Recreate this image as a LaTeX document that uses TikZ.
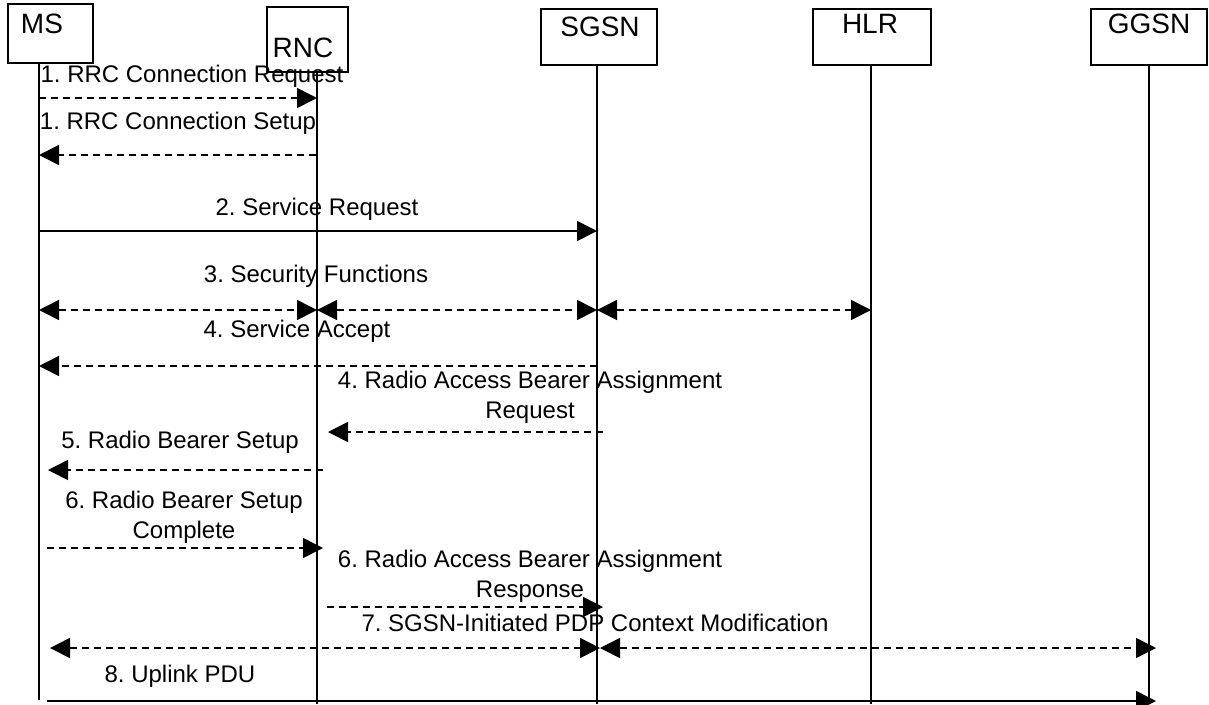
\documentclass[tikz,border=0pt]{standalone}
\usepackage{fontspec}
\setmainfont{Liberation Sans}
\usetikzlibrary{arrows.meta}
\tikzset{>={Triangle[length=15pt,width=15pt]}}
\frenchspacing

\begin{document}
\begin{tikzpicture}[x=0.75pt, y=-0.75pt,
entitybox/.style={rectangle, draw=black, line width=1.5pt, inner sep=0pt},
entitylabel/.style={font=\fontsize{21}{25}\selectfont, inner sep=0pt, anchor=base},
msglabel/.style={font=\fontsize{18}{22.5}\selectfont, align=center, inner sep=0pt, anchor=base},
lifeline/.style={line width=1.5pt},
solidmsg/.style={line width=1.2pt, ->},
dashedmsg/.style={solidmsg, dash pattern=on 5.5pt off 3.5pt},
bothmsg/.style={dashedmsg, <->},
]
\useasboundingbox (0,0) rectangle (1209,704);

%Nodes
\node[entitybox, minimum width=63.75pt, minimum height=44.25pt](MS) at (50.5,33.5) {};
\node[entitybox, minimum width=60.75pt, minimum height=48.75pt](RNC) at (307.5,39.5) {};
\node[entitybox, minimum width=87pt, minimum height=42pt](SGSN) at (599,37) {};
\node[entitybox, minimum width=88.5pt, minimum height=42pt](HLR) at (872,37) {};
\node[entitybox, minimum width=87pt, minimum height=42pt](GGSN) at (1149,37) {};
\node[entitylabel](MSname) at (42,33) {MS};
\node[entitylabel](RNCname) at (303,57) {RNC};
\node[entitylabel](SGSNname) at (600,36) {SGSN};
\node[entitylabel](HLRname) at (870,33) {HLR};
\node[entitylabel](GGSNname) at (1149,33) {GGSN};

%Lifelines
\coordinate (MSend) at (39,700);
\coordinate (RNCend) at (317,704);
\coordinate (SGSNend) at (597,704);
\coordinate (HLRend) at (871,704);
\coordinate (GGSNend) at (1149,704);
\draw[lifeline] (MSend |- MS.south) -- (MSend);
\draw[lifeline] (RNCend |- RNC.south) -- (RNCend);
\draw[lifeline] (SGSNend |- SGSN.south) -- (SGSNend);
\draw[lifeline] (HLRend |- HLR.south) -- (HLRend);
\draw[lifeline] (GGSNend |- GGSN.south) -- (GGSNend);

%Message ends
\coordinate (reqMS) at (39,98);
\coordinate (reqRNC) at (317,98);
\coordinate (setupRNC) at (316,155);
\coordinate (setupMS) at (39,155);
\coordinate (srvMS) at (39,231);
\coordinate (srvSGSN) at (597,231);
\coordinate (secMS) at (39,310);
\coordinate (secRNC) at (317,310);
\coordinate (secSGSN) at (597,310);
\coordinate (secHLR) at (871,310);
\coordinate (accSGSN) at (597,366);
\coordinate (accMS) at (39,366);
\coordinate (rabReqSGSN) at (603,432);
\coordinate (rabReqRNC) at (328,432);
\coordinate (rbRNC) at (323,470);
\coordinate (rbMS) at (48,470);
\coordinate (rbcMS) at (47,548);
\coordinate (rbcRNC) at (323,548);
\coordinate (rabRspRNC) at (327,607);
\coordinate (rabRspSGSN) at (603,607);
\coordinate (pdpMS) at (50,648);
\coordinate (pdpSGSN) at (600,648);
\coordinate (pdpGGSN) at (1156,648);
\coordinate (ulMS) at (47,701);
\coordinate (ulGGSN) at (1156,701);

%Labels (two-line labels sit on their last line)
\node[msglabel](reqLabel) at (192,82) {1. RRC Connection Request};
\node[msglabel](setupLabel) at (178,129) {1. RRC Connection Setup};
\node[msglabel](srvLabel) at (317,215) {2. Service Request};
\node[msglabel](secLabel) at (316,282) {3. Security Functions};
\node[msglabel](accLabel) at (297,337) {4. Service Accept};
\node[msglabel](rabReqLabel) at (530,418) {4. Radio Access Bearer Assignment\\Request};
\node[msglabel](rbLabel) at (180,448) {5. Radio Bearer Setup};
\node[msglabel](rbcLabel) at (184,538) {6. Radio Bearer Setup\\Complete};
\node[msglabel](rabRspLabel) at (530,597) {6. Radio Access Bearer Assignment\\Response};
\node[msglabel](pdpLabel) at (595,631) {7. SGSN-Initiated PDP Context Modification};
\node[msglabel](ulLabel) at (180,682) {8. Uplink PDU};

%Lines
\draw[dashedmsg] (reqMS) -- (reqRNC);
\draw[dashedmsg] (setupRNC) -- (setupMS);
\draw[solidmsg] (srvMS) -- (srvSGSN);
\draw[bothmsg] (secMS) -- (secRNC);
\draw[bothmsg] (secRNC) -- (secSGSN);
\draw[bothmsg] (secSGSN) -- (secHLR);
\draw[dashedmsg] (accSGSN) -- (accMS);
\draw[dashedmsg] (rabReqSGSN) -- (rabReqRNC);
\draw[dashedmsg] (rbRNC) -- (rbMS);
\draw[dashedmsg] (rbcMS) -- (rbcRNC);
\draw[dashedmsg] (rabRspRNC) -- (rabRspSGSN);
\draw[bothmsg] (pdpMS) -- (pdpSGSN);
\draw[bothmsg] (pdpSGSN) -- (pdpGGSN);
\draw[solidmsg] (ulMS) -- (ulGGSN);
\end{tikzpicture}
\end{document}
